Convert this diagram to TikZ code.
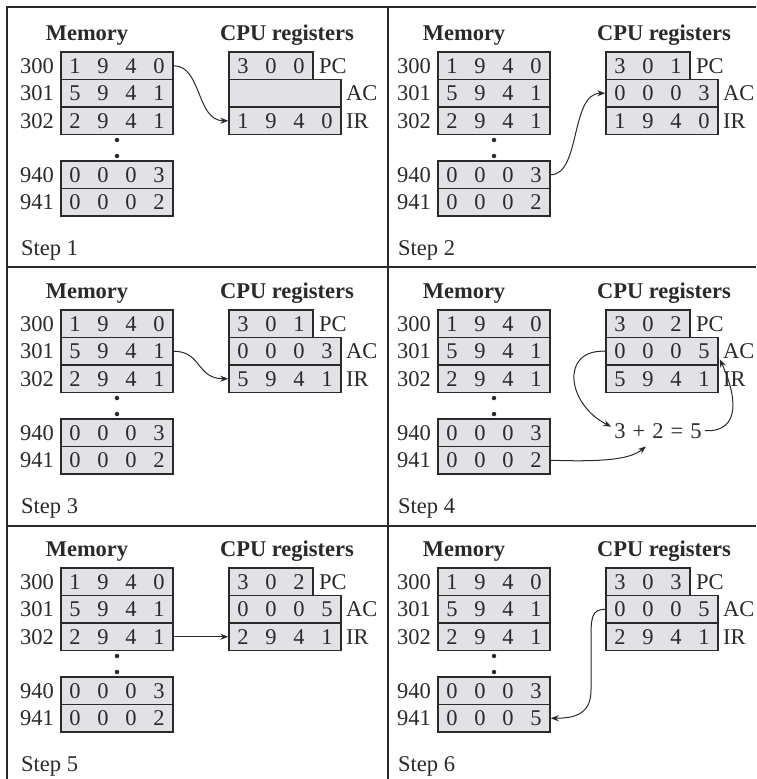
\documentclass[tikz,border=0pt]{standalone}
\usepackage{fontspec}
\setmainfont{Liberation Serif}
\usetikzlibrary{arrows.meta}
\definecolor{cellfill}{HTML}{E2E2E6}
\definecolor{ink}{HTML}{2A2A2A}
\newcommand\cellD[1]{\makebox[28pt]{#1}}
\newcommand\bigfont{\fontsize{22.5pt}{26pt}\selectfont}
\tikzset{
  memrow/.style={draw=ink, fill=cellfill, line width=1.4pt, minimum width=112pt, minimum height=27.5pt, inner sep=0pt, text=ink},
  pcrow/.style={memrow, minimum width=84pt},
  lab/.style={inner sep=0pt, text=ink},
  ttl/.style={inner sep=0pt, text=ink, font=\bigfont\bfseries, anchor=base},
  conn/.style={draw=ink, line width=1pt, -{Stealth[length=8pt,width=6pt]}},
  frameline/.style={draw=ink, line width=1.5pt},
  dotm/.style={circle, fill=ink, inner sep=0pt, minimum size=4.5pt},
}
% #1 prefix, #2 dx, #3 dy, #4 PC, #5 AC, #6 IR, #7 cell 941, #8 step
\newcommand\drawpanel[8]{%
  \begin{scope}[shift={(#2,#3)}]
    \node[ttl] (#1tm) at (87,40) {Memory};
    \node[ttl] (#1tc) at (287,40) {CPU registers};
    \node[memrow] (#1m300) at (117,65.75) {\cellD1\cellD9\cellD4\cellD0};
    \node[memrow] (#1m301) at (117,93.25) {\cellD5\cellD9\cellD4\cellD1};
    \node[memrow] (#1m302) at (117,120.75) {\cellD2\cellD9\cellD4\cellD1};
    \node[dotm] (#1d1) at (117,140) {};
    \node[dotm] (#1d2) at (117,156) {};
    \node[memrow] (#1m940) at (117,174.75) {\cellD0\cellD0\cellD0\cellD3};
    \node[memrow] (#1m941) at (117,202.25) {#7};
    \node[lab, anchor=east] (#1a300) at (54,65.75) {300};
    \node[lab, anchor=east] (#1a301) at (54,93.25) {301};
    \node[lab, anchor=east] (#1a302) at (54,120.75) {302};
    \node[lab, anchor=east] (#1a940) at (54,174.75) {940};
    \node[lab, anchor=east] (#1a941) at (54,202.25) {941};
    \node[pcrow] (#1pc) at (271,65.75) {#4};
    \node[memrow] (#1ac) at (285,93.25) {#5};
    \node[memrow] (#1ir) at (285,120.75) {#6};
    \node[lab, anchor=west] (#1lpc) at (319,65.75) {PC};
    \node[lab, anchor=west] (#1lac) at (346,93.25) {AC};
    \node[lab, anchor=west] (#1lir) at (346,120.75) {IR};
    \node[lab, anchor=base west] (#1step) at (21,255) {Step #8};
  \end{scope}}
\begin{document}
\begin{tikzpicture}[x=1pt, y=-1pt, font=\bigfont]
  \useasboundingbox[fill=white] (0,0) rectangle (756,779);
  % frame
  \draw[frameline] (756,7) -- (7,7) -- (7,779);
  \draw[frameline] (388,7) -- (388,779);
  \draw[frameline] (7,267) -- (756,267);
  \draw[frameline] (7,526) -- (756,526);
  % panels
  \drawpanel{p1}{0}{0}{\cellD3\cellD0\cellD0}{}{\cellD1\cellD9\cellD4\cellD0}{\cellD0\cellD0\cellD0\cellD2}{1}
  \drawpanel{p2}{377}{0}{\cellD3\cellD0\cellD1}{\cellD0\cellD0\cellD0\cellD3}{\cellD1\cellD9\cellD4\cellD0}{\cellD0\cellD0\cellD0\cellD2}{2}
  \drawpanel{p3}{0}{258}{\cellD3\cellD0\cellD1}{\cellD0\cellD0\cellD0\cellD3}{\cellD5\cellD9\cellD4\cellD1}{\cellD0\cellD0\cellD0\cellD2}{3}
  \drawpanel{p4}{377}{258}{\cellD3\cellD0\cellD2}{\cellD0\cellD0\cellD0\cellD5}{\cellD5\cellD9\cellD4\cellD1}{\cellD0\cellD0\cellD0\cellD2}{4}
  \drawpanel{p5}{0}{516}{\cellD3\cellD0\cellD2}{\cellD0\cellD0\cellD0\cellD5}{\cellD2\cellD9\cellD4\cellD1}{\cellD0\cellD0\cellD0\cellD2}{5}
  \drawpanel{p6}{377}{516}{\cellD3\cellD0\cellD3}{\cellD0\cellD0\cellD0\cellD5}{\cellD2\cellD9\cellD4\cellD1}{\cellD0\cellD0\cellD0\cellD5}{6}
  % equation in panel 4
  \node[lab, anchor=base, inner sep=3pt] (p4eq) at (658,438) {3\hspace{7pt}+\hspace{7pt}2\hspace{7pt}=\hspace{7pt}5};
  % connectors
  \draw[conn] (p1m300.east) .. controls +(28,0) and +(-32,0) .. (p1ir.west);
  \draw[conn] (p2m940.east) .. controls +(30,0) and +(-35,0) .. (p2ac.west);
  \draw[conn] (p3m301.east) .. controls +(28,0) and +(-32,0) .. (p3ir.west);
  \draw[conn] (p4ac.west) .. controls +(-46,-2) and +(-44,-22) .. ([yshift=4pt]p4eq.west);
  \draw[conn] (p4m941.east) .. controls +(58,2) and +(-15,12) .. ([xshift=-12pt,yshift=-5pt]p4eq.south);
  \draw[conn] (p4eq.east) .. controls +(38,2) and +(16,34) .. ([xshift=1pt,yshift=-8pt]p4ac.east);
  \draw[conn] (p5m302.east) -- (p5ir.west);
  \draw[conn] (p6ac.west) .. controls +(-14,0) and (591,618) .. (591,640) -- (591,690) .. controls (591,712) and (578,718.25) .. (p6m941.east);
\end{tikzpicture}
\end{document}
